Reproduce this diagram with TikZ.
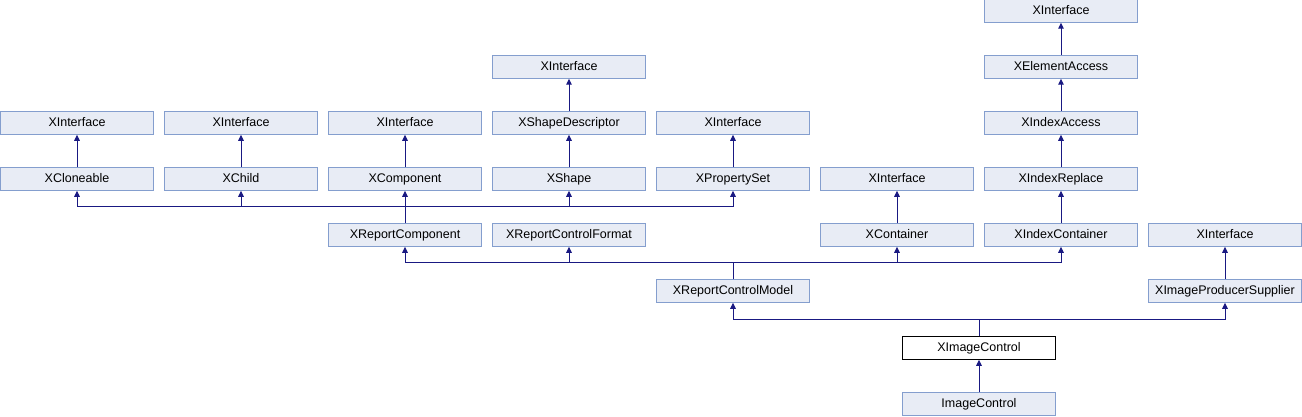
\documentclass[tikz,border=0pt]{standalone}
\usepackage{fontspec}
\setmainfont{Liberation Sans}
\usetikzlibrary{arrows.meta, positioning, calc}

\definecolor{boxfill}{RGB}{232,236,245}
\definecolor{boxline}{RGB}{132,158,206}
\definecolor{edgeblue}{RGB}{25,25,130}

\begin{document}
\begin{tikzpicture}[
  x=1pt, y=1pt,
  node distance=32.5pt and 10pt,
  box/.style={rectangle, draw=boxline, fill=boxfill, line width=1pt, minimum width=153pt, minimum height=22.5pt, inner sep=0pt, text height=9pt, text depth=2.5pt, font=\fontsize{12.5}{14}\selectfont},
  current/.style={box, draw=black, fill=white},
  link/.style={draw=edgeblue, line width=1pt},
  arrow/.style={link, -{Triangle[width=5.5pt, length=6pt]}},
]
\useasboundingbox (0,0) rectangle (1302,416);

% row with XCloneable ...
\node[box] (xcloneable) at (77,237) {XCloneable};
\node[box, right=of xcloneable] (xchild) {XChild};
\node[box, right=of xchild] (xcomponent) {XComponent};
\node[box, right=of xcomponent] (xshape) {XShape};
\node[box, right=of xshape] (xpropertyset) {XPropertySet};
\node[box, right=of xpropertyset] (xiface7) {XInterface};
\node[box, right=of xiface7] (xindexreplace) {XIndexReplace};

% upper rows
\node[box, above=of xcloneable] (xiface1) {XInterface};
\node[box, above=of xchild] (xiface2) {XInterface};
\node[box, above=of xcomponent] (xiface3) {XInterface};
\node[box, above=of xshape] (xshapedescriptor) {XShapeDescriptor};
\node[box, above=of xshapedescriptor] (xiface4) {XInterface};
\node[box, above=of xpropertyset] (xiface5) {XInterface};
\node[box, above=of xindexreplace] (xindexaccess) {XIndexAccess};
\node[box, above=of xindexaccess] (xelementaccess) {XElementAccess};
\node[box, above=of xelementaccess] (xiface6) {XInterface};

% lower rows
\node[box, below=of xcomponent] (xreportcomponent) {XReportComponent};
\node[box, below=of xshape] (xreportcontrolformat) {XReportControlFormat};
\node[box, below=of xiface7] (xcontainer) {XContainer};
\node[box, below=of xindexreplace] (xindexcontainer) {XIndexContainer};
\node[box, right=of xindexcontainer] (xiface8) {XInterface};
\node[box, below=of xiface8] (ximageproducersupplier) {XImageProducerSupplier};
\node[box] (xreportcontrolmodel) at (733,125) {XReportControlModel};
\node[current] (ximagecontrol) at (979,68) {XImageControl};
\node[box, below=of ximagecontrol] (imagecontrol) {ImageControl};

% Connections
\draw[arrow] (xcloneable) -- (xiface1);
\draw[arrow] (xchild) -- (xiface2);
\draw[arrow] (xcomponent) -- (xiface3);
\draw[arrow] (xshapedescriptor) -- (xiface4);
\draw[arrow] (xshape) -- (xshapedescriptor);
\draw[arrow] (xpropertyset) -- (xiface5);
\draw[arrow] (xelementaccess) -- (xiface6);
\draw[arrow] (xindexaccess) -- (xelementaccess);
\draw[arrow] (xindexreplace) -- (xindexaccess);
\draw[arrow] (xindexcontainer) -- (xindexreplace);
\draw[arrow] (xcontainer) -- (xiface7);
\draw[arrow] (ximageproducersupplier) -- (xiface8);
\draw[arrow] (imagecontrol) -- (ximagecontrol);

% merged connections
\coordinate (jcomp) at ($(xreportcomponent.north)+(0,16.5)$);
\draw[link] (xreportcomponent.north) -- (jcomp);
\draw[link] (jcomp -| xcloneable) -- (jcomp -| xpropertyset);
\foreach \p in {xcloneable, xchild, xcomponent, xshape, xpropertyset}
  \draw[arrow] (jcomp -| \p) -- (\p.south);

\coordinate (jmodel) at ($(xreportcontrolmodel.north)+(0,16.5)$);
\draw[link] (xreportcontrolmodel.north) -- (jmodel);
\draw[link] (jmodel -| xreportcomponent) -- (jmodel -| xindexcontainer);
\foreach \p in {xreportcomponent, xreportcontrolformat, xcontainer, xindexcontainer}
  \draw[arrow] (jmodel -| \p) -- (\p.south);

\coordinate (jimage) at ($(ximagecontrol.north)+(0,16.5)$);
\draw[link] (ximagecontrol.north) -- (jimage);
\draw[link] (jimage -| xreportcontrolmodel) -- (jimage -| ximageproducersupplier);
\foreach \p in {xreportcontrolmodel, ximageproducersupplier}
  \draw[arrow] (jimage -| \p) -- (\p.south);

\end{tikzpicture}
\end{document}
